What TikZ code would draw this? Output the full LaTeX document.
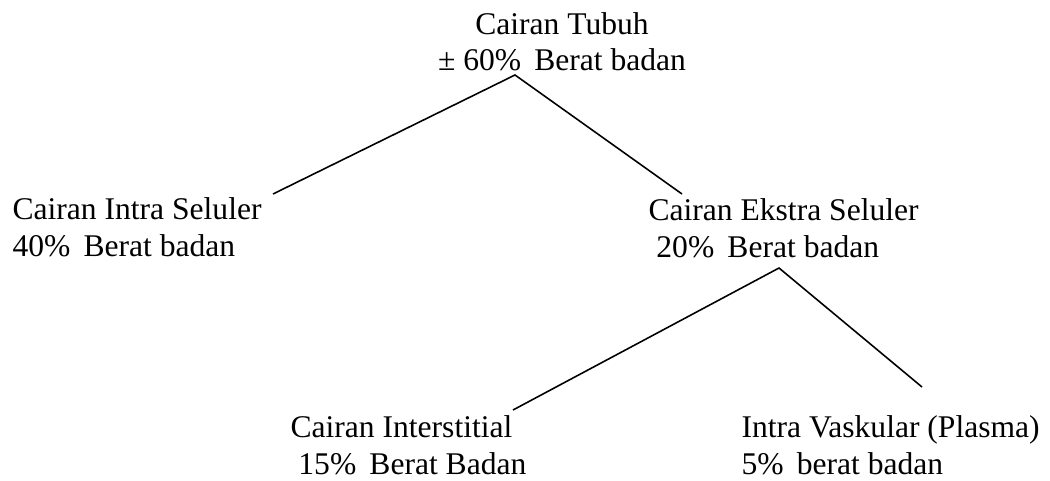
\documentclass[tikz,border=0pt]{standalone}
\usepackage{fontspec}
\setmainfont{Liberation Serif}
\begin{document}
\begin{tikzpicture}[x=0.38pt, y=-0.38pt,
    lbl/.style={inner sep=0pt, align=left, anchor=base west,
        font=\fontsize{12}{13.7}\selectfont},
    branch/.style={line width=0.6pt}]
    \useasboundingbox (0,0) rectangle (1050,480);

    % Labels (anchored at the baseline of the second line)
    \node[lbl, align=center, anchor=base] (tubuh) at (562,71)
        {Cairan Tubuh\\± 60\%\ \,Berat badan};
    \node[lbl] (intra) at (12,256) {Cairan Intra Seluler\\40\%\ \,Berat badan};
    \node[lbl] (ekstra) at (648,257)
        {Cairan Ekstra Seluler\\\hspace*{0.25em}20\%\ \,Berat badan};
    \node[lbl] (inter) at (290,474)
        {Cairan Interstitial\\\hspace*{0.25em}15\%\ \,Berat Badan};
    \node[lbl] (vaskular) at (741,474)
        {Intra Vaskular (Plasma)\\5\%\ \,berat badan};

    % Branch points and line ends
    \coordinate (tubuhB) at (515,75);
    \coordinate (intraT) at (273,194);
    \coordinate (ekstraT) at (682,194);
    \coordinate (ekstraB) at (779,268);
    \coordinate (interT) at (513,410);
    \coordinate (vaskularT) at (922,387);

    % Lines
    \draw[branch] (intraT) -- (tubuhB) -- (ekstraT);
    \draw[branch] (interT) -- (ekstraB) -- (vaskularT);
\end{tikzpicture}
\end{document}
